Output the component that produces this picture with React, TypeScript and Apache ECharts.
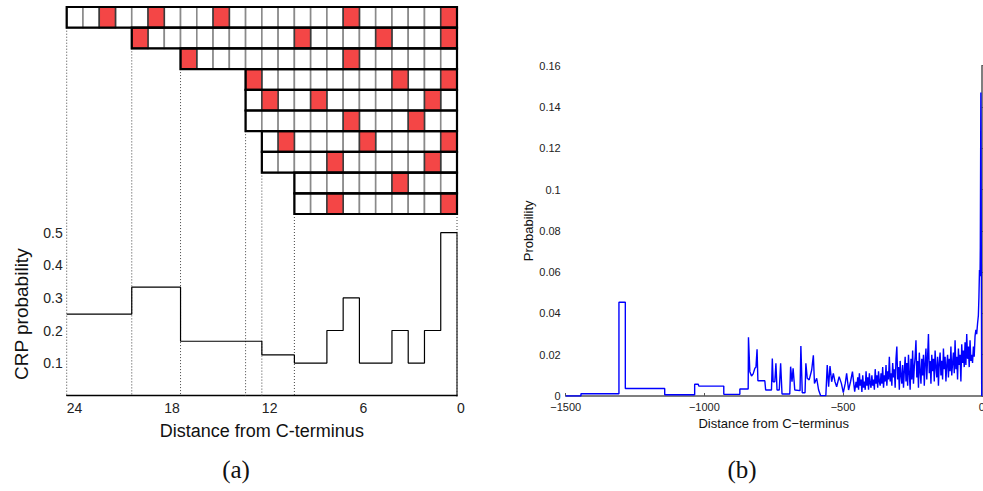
import React, { useEffect, useRef } from 'react';
import * as echarts from 'echarts';

// ---------- Panel (a): residue matrix (columns 1..24 from left, distance = 25 - col) ----------
const NCOLS = 24;
const rowStartCol = [1, 5, 8, 12, 12, 12, 13, 13, 15, 15];
const rowRedCols = [
  [3, 6, 10, 18, 24],
  [5, 15, 20, 24],
  [8, 18],
  [12, 21, 24],
  [13, 16, 23],
  [18, 22],
  [14, 19, 24],
  [17, 23],
  [21],
  [17, 24],
];

// ---------- Panel (a): CRP probability step plot ----------
const stepDistance = [24, 20, 17, 12, 10, 8, 7, 6, 4, 3, 2, 1, 0];
const stepProbability = [0.25, 0.333, 0.167, 0.125, 0.1, 0.2, 0.3, 0.1, 0.2, 0.1, 0.2, 0.5, 0.5];

// ---------- Panel (b): probability vs distance ----------
const flatX = [-1500, -1445, -1445, -1308, -1308, -1285, -1285, -1143, -1143, -1035, -1035, -1022, -1020, -930, -930, -872, -872, -842];
const flatY = [0, 0, 0.0011, 0.0011, 0.0454, 0.0454, 0.0036, 0.0036, 0.0006, 0.0006, 0.0057, 0.0057, 0.0048, 0.0048, 0.0008, 0.0008, 0.0034, 0.0034];

const sparseX = [-841, -836, -830, -824, -818, -814, -810, -807, -782, -779, -758, -755, -752, -746, -742, -738, -730, -725, -720, -692, -689, -684, -680, -674, -655, -652, -647, -637, -634, -629, -622, -613, -607, -603, -595, -588, -581, -562, -557, -552, -547, -541, -535, -529, -523, -514, -506, -499, -492, -487, -480, -473, -466, -458, -453];
const sparseY = [0.0284, 0.0118, 0.0097, 0.0107, 0.0134, 0.0139, 0.0226, 0.0074, 0.0074, 0.0029, 0.0029, 0.0181, 0.0069, 0.0069, 0.0158, 0.0029, 0.0029, 0.0158, 0.0010, 0.0010, 0.0142, 0.0069, 0.0134, 0.0029, 0.0026, 0.0242, 0.0016, 0.0016, 0.0158, 0.0086, 0.0078, 0.0126, 0.0197, 0.0061, 0.0086, 0.0029, 0.0002, 0.0002, 0.0150, 0.0045, 0.0145, 0.0069, 0.0110, 0.0069, 0.0045, 0.0094, 0.0061, 0.0016, 0.0061, 0.0110, 0.0029, 0.0069, 0.0118, 0.0021, 0.0069];

const denseStart = -450;
const denseStep = 3;
const denseY = [
  0.004, 0.009, 0.003, 0.011, 0.005, 0.008, 0.002, 0.010, 0.004, 0.007,
  0.003, 0.012, 0.005, 0.009, 0.003, 0.011, 0.006, 0.004, 0.010, 0.005,
  0.008, 0.003, 0.013, 0.006, 0.010, 0.004, 0.012, 0.007, 0.005, 0.011,
  0.006, 0.014, 0.004, 0.010, 0.007, 0.015, 0.005, 0.012, 0.008, 0.019,
  0.007, 0.011, 0.005, 0.016, 0.009, 0.013, 0.004, 0.018, 0.024, 0.008,
  0.014, 0.003, 0.017, 0.010, 0.006, 0.015, 0.004, 0.012, 0.019, 0.007,
  0.016, 0.005, 0.020, 0.011, 0.003, 0.018, 0.008, 0.022, 0.006, 0.014,
  0.019, 0.027, 0.009, 0.017, 0.004, 0.021, 0.012, 0.006, 0.018, 0.010,
  0.020, 0.005, 0.016, 0.023, 0.008, 0.019, 0.030, 0.011, 0.017, 0.006,
  0.020, 0.012, 0.018, 0.007, 0.022, 0.014, 0.009, 0.019, 0.005, 0.016,
  0.021, 0.010, 0.017, 0.008, 0.023, 0.013, 0.019, 0.007, 0.015, 0.020,
  0.009, 0.018, 0.012, 0.024, 0.010, 0.016, 0.021, 0.011, 0.027, 0.013,
  0.019, 0.008, 0.023, 0.015, 0.020, 0.007, 0.025, 0.016, 0.022, 0.014,
  0.026, 0.015, 0.030, 0.018, 0.024, 0.014, 0.027, 0.017, 0.020, 0.016,
  0.024, 0.019, 0.029, 0.032, 0.030, 0.035, 0.039,
];

const tailX = [-10, -8, -6, -5, -3, -1, 0];
const tailY = [0.048, 0.061, 0.058, 0.072, 0.147, 0.147, 0];

// ---------- layout (page pixels) ----------
const A_LEFT = 66.7;
const A_W = 390.3;
const A_MAT_TOP = 7;
const A_MAT_H = 207;
const A_PLOT_TOP = 232.7;
const A_PLOT_H = 163;
const A_PLOT_BOTTOM = A_PLOT_TOP + A_PLOT_H;
const B_LEFT = 565.7;
const B_W = 416;
const B_TOP = 65.7;
const B_H = 330.3;

const FONT = 'Liberation Sans, Arial, sans-serif';

function buildOption() {
  const whiteCells: number[][] = [];
  const redCells: number[][] = [];
  rowStartCol.forEach((start, r) => {
    for (let c = start; c <= NCOLS; c++) {
      const item = [NCOLS + 1 - c, r];
      if (rowRedCols[r].includes(c)) redCells.push(item);
      else whiteCells.push(item);
    }
  });
  const rowOutlines = rowStartCol.map((start, r) => [NCOLS + 1 - start, r]);

  const guides: number[][] = [];
  const seen: Record<number, number> = {};
  rowStartCol.forEach((start, r) => { seen[start] = r; });
  Object.keys(seen).forEach((k) => {
    const start = Number(k);
    guides.push([NCOLS + 1 - start, seen[start] + 1]);
  });
  guides.push([0, rowStartCol.length]);

  const cellRender = (fill: string, stroke: string) => (params: any, api: any) => {
    const d = api.value(0);
    const r = api.value(1);
    const p1 = api.coord([d, r]);
    const p2 = api.coord([d - 1, r + 1]);
    return {
      type: 'rect',
      shape: { x: p1[0], y: p1[1], width: p2[0] - p1[0], height: p2[1] - p1[1] },
      style: { fill, stroke, lineWidth: 1.6 },
    };
  };

  const bData: number[][] = [];
  flatX.forEach((x, i) => bData.push([x, flatY[i]]));
  sparseX.forEach((x, i) => bData.push([x, sparseY[i]]));
  denseY.forEach((y, i) => bData.push([denseStart + i * denseStep, y]));
  tailX.forEach((x, i) => bData.push([x, tailY[i]]));

  const minus = (v: number) => String(v).replace('-', '\u2212');

  return {
    animation: false,
    backgroundColor: '#ffffff',
    textStyle: { fontFamily: FONT },
    grid: [
      { left: A_LEFT, top: A_MAT_TOP, width: A_W, height: A_MAT_H, containLabel: false, outerBoundsMode: 'none' },
      { left: A_LEFT, top: A_PLOT_TOP, width: A_W, height: A_PLOT_H, containLabel: false, outerBoundsMode: 'none' },
      { left: B_LEFT, top: B_TOP, width: B_W, height: B_H, containLabel: false, outerBoundsMode: 'none' },
    ],
    xAxis: [
      { gridIndex: 0, type: 'value', min: 0, max: NCOLS, inverse: true, show: false },
      {
        gridIndex: 1, type: 'value', min: 0, max: 24, interval: 6, inverse: true,
        axisLine: { show: true, lineStyle: { color: '#000', width: 1.3 } },
        axisTick: { show: false }, splitLine: { show: false },
        axisLabel: { align: 'left', fontSize: 14, color: '#222', margin: 5, fontFamily: FONT },
        name: 'Distance from C-terminus', nameLocation: 'middle', nameGap: 26,
        nameTextStyle: { fontSize: 18, color: '#111', fontFamily: FONT },
      },
      {
        gridIndex: 2, type: 'value', min: -1500, max: 0, interval: 500,
        axisLine: { show: true, lineStyle: { color: '#555', width: 1.5 } },
        axisTick: { show: true, inside: true, length: 3, lineStyle: { color: '#555' } },
        splitLine: { show: false },
        axisLabel: { fontSize: 11, color: '#222', margin: 5, formatter: minus, fontFamily: FONT },
        name: 'Distance from C\u2212terminus', nameLocation: 'middle', nameGap: 15,
        nameTextStyle: { fontSize: 13, color: '#111', fontFamily: FONT },
      },
    ],
    yAxis: [
      { gridIndex: 0, type: 'value', min: 0, max: rowStartCol.length, inverse: true, show: false },
      {
        gridIndex: 1, type: 'value', min: 0, max: 0.5, interval: 0.1,
        axisLine: { show: true, lineStyle: { color: '#777', width: 2 } },
        axisTick: { show: false }, splitLine: { show: false },
        axisLabel: { fontSize: 14, color: '#222', margin: 4, showMinLabel: false, fontFamily: FONT },
        name: 'CRP probability', nameLocation: 'middle', nameGap: 36,
        nameTextStyle: { fontSize: 19, color: '#111', fontFamily: FONT },
      },
      {
        gridIndex: 2, type: 'value', min: 0, max: 0.16, interval: 0.02,
        axisLine: { show: true, lineStyle: { color: '#555', width: 1.5 } },
        axisTick: { show: true, inside: true, length: 3, lineStyle: { color: '#555' } },
        splitLine: { show: false },
        axisLabel: { fontSize: 11, color: '#222', margin: 5, fontFamily: FONT },
        name: 'Probability', nameLocation: 'middle', nameGap: 30,
        nameTextStyle: { fontSize: 13, color: '#111', fontFamily: FONT },
      },
    ],
    series: [
      {
        type: 'custom', xAxisIndex: 0, yAxisIndex: 0, silent: true, clip: false, z: 1,
        encode: { x: 0, y: 1 },
        renderItem: (params: any, api: any) => {
          const p = api.coord([api.value(0), api.value(1)]);
          return {
            type: 'line',
            shape: { x1: p[0], y1: p[1], x2: p[0], y2: A_PLOT_BOTTOM },
            style: { stroke: '#444', lineWidth: 1, lineDash: [1, 2] },
          };
        },
        data: guides,
      },
      {
        type: 'custom', xAxisIndex: 0, yAxisIndex: 0, silent: true, clip: false, z: 2,
        encode: { x: 0, y: 1 },
        renderItem: cellRender('#ffffff', '#8a8a8a'),
        data: whiteCells,
      },
      {
        type: 'custom', xAxisIndex: 0, yAxisIndex: 0, silent: true, clip: false, z: 3,
        encode: { x: 0, y: 1 },
        renderItem: cellRender('#f44646', '#3a3a3a'),
        data: redCells,
      },
      {
        type: 'custom', xAxisIndex: 0, yAxisIndex: 0, silent: true, clip: false, z: 4,
        encode: { x: 0, y: 1 },
        renderItem: (params: any, api: any) => {
          const p1 = api.coord([api.value(0), api.value(1)]);
          const p2 = api.coord([0, api.value(1) + 1]);
          return {
            type: 'rect',
            shape: { x: p1[0], y: p1[1], width: p2[0] - p1[0], height: p2[1] - p1[1] },
            style: { fill: 'none', stroke: '#000', lineWidth: 2.2 },
          };
        },
        data: rowOutlines,
      },
      {
        type: 'line', xAxisIndex: 1, yAxisIndex: 1, step: 'end', z: 5,
        symbol: 'none', showSymbol: false, silent: true,
        lineStyle: { color: '#000', width: 1.2 },
        data: stepDistance.map((d, i) => [d, stepProbability[i]]),
      },
      {
        type: 'line', xAxisIndex: 2, yAxisIndex: 2, z: 5,
        symbol: 'none', showSymbol: false, silent: true,
        lineStyle: { color: '#0000ff', width: 1.4 },
        data: bData,
      },
    ],
    graphic: [
      {
        type: 'text', x: 236, y: 469,
        style: { text: '(a)', font: '25px Liberation Serif, DejaVu Serif, serif', fill: '#111', textAlign: 'center', textVerticalAlign: 'middle' },
      },
      {
        type: 'text', x: 742, y: 469,
        style: { text: '(b)', font: '25px Liberation Serif, DejaVu Serif, serif', fill: '#111', textAlign: 'center', textVerticalAlign: 'middle' },
      },
    ],
  };
}

export default function App() {
  const ref = useRef<HTMLDivElement>(null);
  useEffect(() => {
    if (!ref.current) return;
    const chart = echarts.init(ref.current, null, { renderer: 'svg' });
    chart.setOption(buildOption() as any);
    return () => chart.dispose();
  }, []);
  return (
    <div
      ref={ref}
      style={{ position: 'fixed', left: 0, top: 0, width: 983, height: 491, background: '#fff' }}
    />
  );
}
